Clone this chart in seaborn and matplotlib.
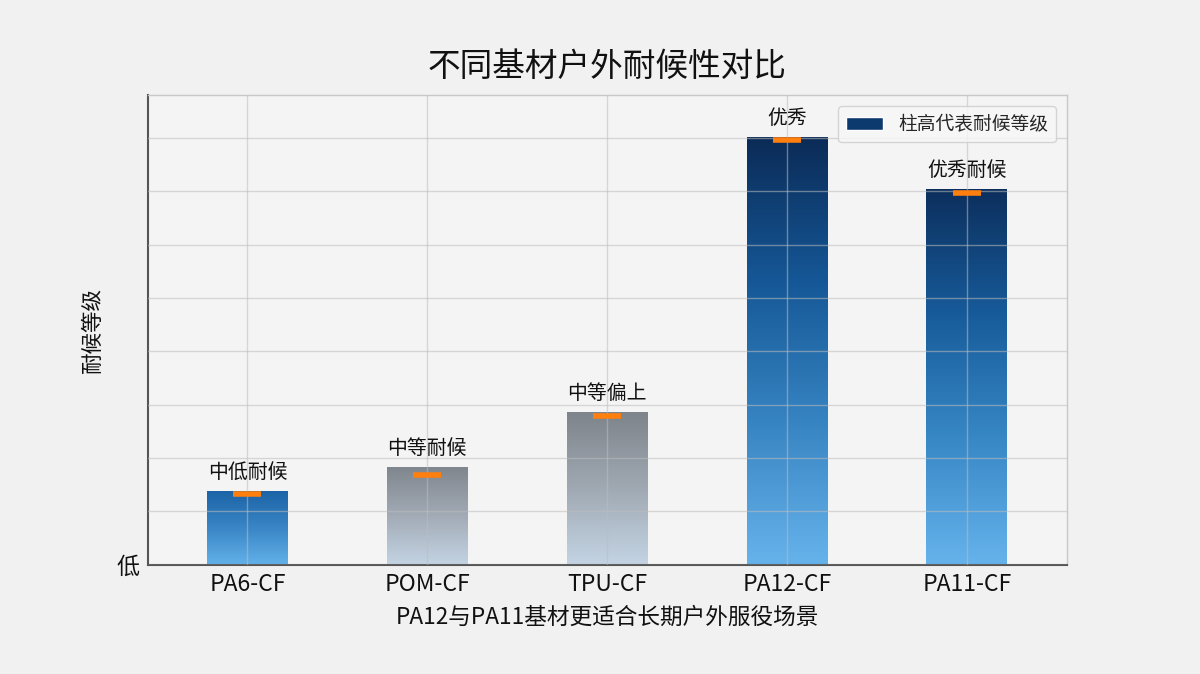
import numpy as np
import pandas as pd
import matplotlib
matplotlib.use("Agg")
import matplotlib.pyplot as plt
from matplotlib.colors import LinearSegmentedColormap
from matplotlib.patches import Patch
import seaborn as sns

sns.set_theme(style="whitegrid")
plt.rcParams['font.family'] = ['Noto Sans CJK SC', 'DejaVu Sans']

# data
materials = ["PA6-CF", "POM-CF", "TPU-CF", "PA12-CF", "PA11-CF"]
levels = [1.37, 1.82, 2.85, 8.0, 7.03]
marks = [1.33, 1.69, 2.78, 7.95, 6.96]
notes = ["中低耐候", "中等耐候", "中等偏上", "优秀", "优秀耐候"]

# gradient stops per bar, bottom -> top
tall_blue = ["#66b3ec", "#3784c2", "#155796", "#0b2b57"]
stops = [
    ["#63b1ea", "#3a86c6", "#1b63a6"],
    ["#c4d4e4", "#a2abb6", "#80868d"],
    ["#c4d4e4", "#a0a9b3", "#7e848b"],
    tall_blue,
    ["#66b3ec", "#3888c6", "#175b9a", "#0c2f5d"],
]

df = pd.DataFrame({"material": materials, "level": levels})

fig = plt.figure(figsize=(12, 6.74), dpi=100, facecolor="#f1f1f1")
ax = fig.add_axes([0.123, 0.162, 0.766, 0.697])
ax.set_facecolor("#f4f4f4")

sns.barplot(data=df, x="material", y="level", width=0.45, color="#0d3a6e", ax=ax, zorder=2)

# replace flat fills with vertical gradients
grad = np.linspace(0, 1, 256).reshape(-1, 1)
for patch, cols in zip(ax.patches, stops):
    x0, w, h = patch.get_x(), patch.get_width(), patch.get_height()
    cmap = LinearSegmentedColormap.from_list("g", cols)
    ax.imshow(grad, cmap=cmap, origin="lower", aspect="auto",
              extent=[x0, x0 + w, 0, h], zorder=2)
    patch.set_facecolor("none")
    patch.set_edgecolor("none")

xs = np.arange(len(materials))
ax.hlines(marks, xs - 0.078, xs + 0.078, color="#ff7f0e", lw=4, zorder=4)

for x, h, t in zip(xs, levels, notes):
    ax.annotate(t, (x, h), xytext=(0, 6), textcoords="offset points",
                ha="center", va="bottom", fontsize=14.3, color="#111111")

ax.set_xlim(-0.555, 4.555)
ax.set_ylim(0, 8.8)
ax.set_yticks(range(9))
ax.set_yticklabels(["低"] + [""] * 8)

ax.set_axisbelow(False)
ax.grid(True, color="#bdbdbd", alpha=0.55, lw=1, zorder=3)
ax.tick_params(axis="both", direction="in", length=5, width=1.3, color="#333333",
               labelsize=16.5, labelcolor="#111111", pad=6)
ax.tick_params(axis="x", length=4)
for side in ["left", "bottom"]:
    ax.spines[side].set_color("#555555")
    ax.spines[side].set_linewidth(1.5)
for side in ["top", "right"]:
    ax.spines[side].set_color("#c8c8c8")
    ax.spines[side].set_linewidth(1)

ax.set_title("不同基材户外耐候性对比", fontsize=23.5, pad=14, color="#111111")
ax.set_xlabel("PA12与PA11基材更适合长期户外服役场景", fontsize=16.3, color="#111111", labelpad=7)
ax.set_ylabel("耐候等级", fontsize=15.5, color="#111111", labelpad=9)

ax.legend(handles=[Patch(facecolor="#0d3a6e", label="柱高代表耐候等级")],
          loc="upper right", fontsize=13.5, frameon=True, facecolor="#f7f7f7",
          edgecolor="#cccccc", borderaxespad=0.6)

fig.savefig("out.png", dpi=100, facecolor=fig.get_facecolor())
